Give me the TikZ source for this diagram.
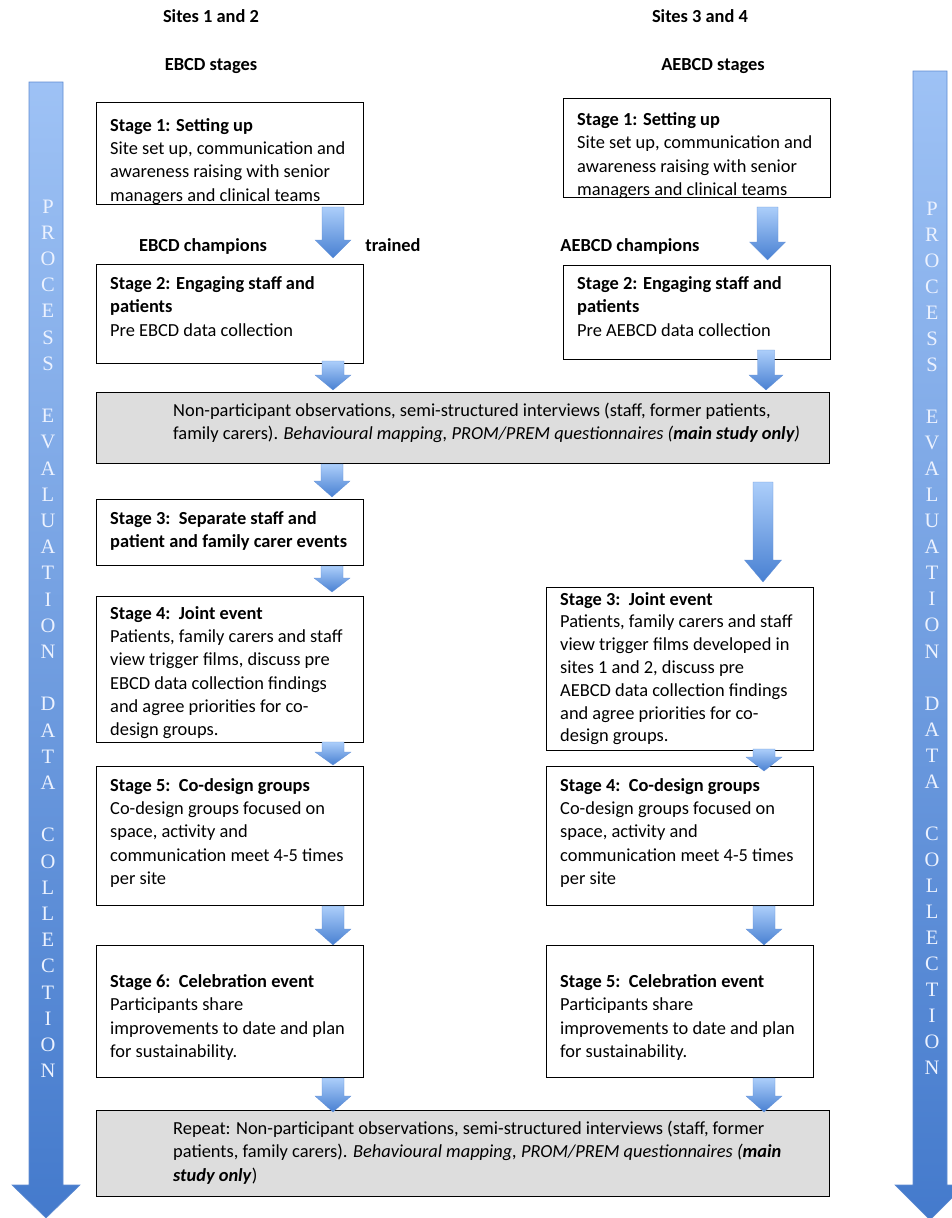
\documentclass[tikz,border=0pt]{standalone}
\usepackage{fontspec}
\setmainfont{Carlito}
\newfontfamily\sidefont{Liberation Serif}
\usetikzlibrary{calc}
\definecolor{greyfill}{RGB}{221,221,221}
\definecolor{bigtop}{RGB}{158,194,245}
\definecolor{bigbot}{RGB}{68,122,204}
\definecolor{bigedge}{RGB}{95,140,210}
\definecolor{smtop}{RGB}{172,206,250}
\definecolor{smbot}{RGB}{72,128,210}
\definecolor{smedge}{RGB}{100,145,215}
\definecolor{lettercol}{RGB}{236,242,255}
\newcommand\fs{\fontsize{18.4}{23.3}\selectfont}
\newcommand\fsn{\fontsize{18.4}{22.8}\selectfont}
% block arrow: cx, ytop, ytip, shaft half width, head half width, head length
\newcommand\blockarrow[6]{%
  \shade[top color=smtop, bottom color=smbot, draw=smedge, line width=0.3pt]
  ({#1-#4},{#2}) -- ({#1+#4},{#2}) -- ({#1+#4},{#3-#6}) -- ({#1+#5},{#3-#6})
  -- ({#1},{#3}) -- ({#1-#5},{#3-#6}) -- ({#1-#4},{#3-#6}) -- cycle;}
\newcommand\bigarrow[6]{% cx, ytop, ytip, shaft half, head half, head len
  \shade[top color=bigtop, bottom color=bigbot, draw=bigedge, line width=0.6pt]
  ({#1-#4},{#2}) -- ({#1+#4},{#2}) -- ({#1+#4},{#3-#6}) -- ({#1+#5},{#3-#6})
  -- ({#1},{#3}) -- ({#1-#5},{#3-#6}) -- ({#1-#4},{#3-#6}) -- cycle;}
\begin{document}
\begin{tikzpicture}[x=1pt,y=-1pt,
  stagebox/.style={draw=black, line width=0.9pt, fill=white, anchor=north west, inner sep=0pt, outer sep=0pt, minimum width=267pt},
  greybox/.style={draw=black, line width=0.9pt, fill=greyfill, anchor=north west, inner sep=0pt, outer sep=0pt, minimum width=733pt},
  boxtext/.style={anchor=north west, align=left, inner sep=0pt, font=\fs},
  headlabel/.style={anchor=base, inner sep=0pt, font=\fs\bfseries},
  sideletter/.style={anchor=base, inner sep=0pt, text=lettercol, font=\sidefont\fontsize{20.5}{21}\selectfont},
]
\useasboundingbox (0,0) rectangle (952,1218);

% side arrows
\bigarrow{46}{82}{1218}{17}{34}{33}
\bigarrow{930}{71}{1220}{17}{35}{35}
\foreach \l [count=\i] in {P,R,O,C,E,S,S,{},E,V,A,L,U,A,T,I,O,N,{},D,A,T,A,{},C,O,L,L,E,C,T,I,O,N}{
  \node[sideletter] (ll\i) at (48,{206+(\i-1)*26.2+7}) {\l};
  \node[sideletter] (rl\i) at (932,{208+(\i-1)*26.06+7}) {\l};
}

% headings
\node[headlabel] (h1) at (211,{17+6}) {Sites 1 and 2};
\node[headlabel] (h2) at (211,{64+6}) {EBCD stages};
\node[headlabel] (h3) at (700,{17+6}) {Sites 3 and 4};
\node[headlabel] (h4) at (713,{64+6}) {AEBCD stages};

% ---------- left column ----------
\node[stagebox, minimum height=102pt] (L1) at (96,102) {};
\node[boxtext] (L1t) at ($(L1.north west)+(14,12.7)$) {\strut\textbf{Stage 1: Setting up}\\Site set up, communication and\\awareness raising with senior\\managers and clinical teams};
\fill[white] ($(L1.south west)+(-1,0.5)$) rectangle ($(L1.south east)+(1,9)$);

\node[stagebox, minimum height=99pt] (L2) at (96,264) {};
\node[boxtext] (L2t) at ($(L2.north west)+(14,9)$) {\strut\textbf{Stage 2: Engaging staff and}\\\textbf{patients}\\Pre EBCD data collection};

\node[stagebox, minimum height=66pt] (L3) at (96,499) {};
\node[boxtext] (L3t) at ($(L3.north west)+(14,9)$) {\strut\textbf{Stage 3:\ \ Separate staff and}\\\textbf{patient and family carer events}};

\node[stagebox, minimum height=146pt] (L4) at (96,596) {};
\node[boxtext] (L4t) at ($(L4.north west)+(14,6.7)$) {\strut\textbf{Stage 4:\ \ Joint event}\\Patients, family carers and staff\\view trigger films, discuss pre\\EBCD data collection findings\\and agree priorities for co-\\design groups.};

\node[stagebox, minimum height=139pt] (L5) at (96,766) {};
\node[boxtext] (L5t) at ($(L5.north west)+(14,8.7)$) {\strut\textbf{Stage 5:\ \ Co-design groups}\\Co-design groups focused on\\space, activity and\\communication meet 4-5 times\\per site};

\node[stagebox, minimum height=132pt] (L6) at (96,945) {};
\node[boxtext] (L6t) at ($(L6.north west)+(14,26)$) {\strut\textbf{Stage 6:\ \ Celebration event}\\Participants share\\improvements to date and plan\\for sustainability.};

% ---------- right column ----------
\node[stagebox, minimum height=99.5pt] (R1) at (563,98) {};
\node[boxtext] (R1t) at ($(R1.north west)+(14,11)$) {\strut\textbf{Stage 1: Setting up}\\Site set up, communication and\\awareness raising with senior\\managers and clinical teams};
\fill[white] ($(R1.south west)+(-1,0.5)$) rectangle ($(R1.south east)+(1,9)$);

\node[stagebox, minimum height=94pt] (R2) at (563,265) {};
\node[boxtext] (R2t) at ($(R2.north west)+(14,8)$) {\strut\textbf{Stage 2: Engaging staff and}\\\textbf{patients}\\Pre AEBCD data collection};

\node[stagebox, minimum height=163pt] (R3) at (546,587) {};
\node[boxtext, font=\fsn] (R3t) at ($(R3.north west)+(14,2)$) {\strut\textbf{Stage 3:\ \ Joint event}\\Patients, family carers and staff\\view trigger films developed in\\sites 1 and 2, discuss pre\\AEBCD data collection findings\\and agree priorities for co-\\design groups.};

\node[stagebox, minimum height=139pt] (R4) at (546,766) {};
\node[boxtext] (R4t) at ($(R4.north west)+(14,8.7)$) {\strut\textbf{Stage 4:\ \ Co-design groups}\\Co-design groups focused on\\space, activity and\\communication meet 4-5 times\\per site};

\node[stagebox, minimum height=132pt] (R5) at (546,945) {};
\node[boxtext] (R5t) at ($(R5.north west)+(14,26)$) {\strut\textbf{Stage 5:\ \ Celebration event}\\Participants share\\improvements to date and plan\\for sustainability.};

% ---------- grey boxes ----------
\node[greybox, minimum height=71pt] (G1) at (96,392) {};
\node[boxtext] (G1t) at ($(G1.north west)+(77,8)$) {\strut Non-participant observations, semi-structured interviews (staff, former patients,\\family carers). \textit{Behavioural mapping, PROM/PREM questionnaires (\textbf{main study only})}};

\node[greybox, minimum height=86pt] (G2) at (96,1110) {};
\node[boxtext] (G2t) at ($(G2.north west)+(77,8)$) {\strut Repeat: Non-participant observations, semi-structured interviews (staff, former\\patients, family carers). \textit{Behavioural mapping, PROM/PREM questionnaires (\textbf{main}}\\\textit{\textbf{study only}})};

% ---------- labels ----------
\node[headlabel] (c1) at (203,{245+6}) {EBCD champions};
\node[headlabel] (c2) at (393,{245+6}) {trained};
\node[headlabel] (c3) at (630,{245+6}) {AEBCD champions};

% ---------- block arrows ----------
\blockarrow{333}{207}{258}{11}{18}{18}
\blockarrow{767.5}{207}{260}{10.5}{18}{18}
\blockarrow{333}{361}{390}{11}{18}{15}
\blockarrow{766}{350}{390}{8.5}{17}{15}
\blockarrow{332}{464}{497}{11}{18}{16}
\blockarrow{763}{482}{582}{10}{18.5}{22}
\blockarrow{332}{566}{592}{11}{18}{14}
\blockarrow{333}{742}{765}{11}{18}{13}
\blockarrow{764}{749}{771}{11}{18}{14}
\blockarrow{333}{906}{945}{11}{18}{16}
\blockarrow{764}{906}{945}{11}{18}{16}
\blockarrow{333}{1078}{1112}{11}{18}{16}
\blockarrow{764}{1078}{1112}{11}{18}{16}
\end{tikzpicture}
\end{document}
